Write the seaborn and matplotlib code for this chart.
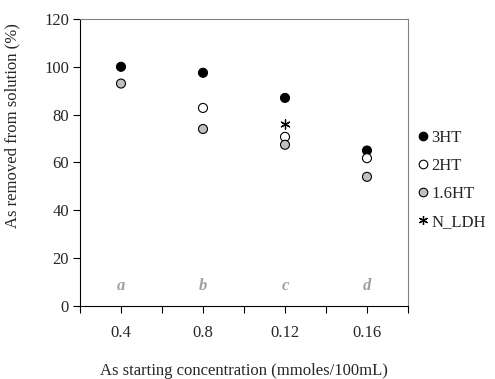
import numpy as np
import pandas as pd
import matplotlib
matplotlib.use("Agg")
import matplotlib.pyplot as plt
from matplotlib.lines import Line2D
import seaborn as sns

# data
concentrations = ["0.4", "0.8", "0.12", "0.16"]
letters = ["a", "b", "c", "d"]
ht3 = [100, 97.5, 87, 65]
ht2 = [None, 82.8, 70.7, 61.8]
ht16 = [93, 74, 67.4, 54]
nldh = [None, None, 76, None]

rows = []
for name, vals in [("3HT", ht3), ("2HT", ht2), ("1.6HT", ht16), ("N_LDH", nldh)]:
    for i, v in enumerate(vals):
        if v is not None:
            rows.append({"pos": i, "value": v, "series": name})
df = pd.DataFrame(rows)

sns.set_style("ticks")
plt.rcParams["font.family"] = ["Liberation Serif", "DejaVu Serif"]

fig = plt.figure(figsize=(4.95, 3.79), dpi=100)
ax = fig.add_axes([0.1616, 0.1926, 0.6626, 0.7574])

palette = {"3HT": "black", "2HT": "white", "1.6HT": "#c0c0c0"}
dots = df[df.series != "N_LDH"]
sns.scatterplot(data=dots, x="pos", y="value", hue="series", palette=palette,
                s=42, edgecolor="black", linewidth=0.8, ax=ax, zorder=3, legend=False)
star = (6, 2, 0)
sns.scatterplot(data=df[df.series == "N_LDH"], x="pos", y="value", color="black",
                marker=star, s=45, linewidth=0.9, ax=ax, zorder=3, legend=False)

for i, t in enumerate(letters):
    ax.text(i, 8.5, t, color="#a0a0a0", fontstyle="italic", fontweight="bold",
            fontsize=12, ha="center", va="center")

ax.set_xlim(-0.5, 3.5)
ax.set_ylim(0, 120)
ticks = np.arange(-0.5, 3.51, 0.5)
ax.set_xticks(ticks)
ax.set_xticklabels([concentrations[int(t)] if t == int(t) else "" for t in ticks])
ax.set_yticks(range(0, 121, 20))
ax.tick_params(axis="both", labelsize=12, length=5, width=0.8, color="black")
ax.tick_params(axis="x", pad=9)
ax.tick_params(axis="y", pad=3)

for side in ["top", "right"]:
    ax.spines[side].set_visible(True)
    ax.spines[side].set_color("#808080")
for side in ["left", "bottom"]:
    ax.spines[side].set_color("black")
for sp in ax.spines.values():
    sp.set_linewidth(0.8)

ax.set_xlabel("As starting concentration (mmoles/100mL)", fontsize=12)
ax.xaxis.set_label_coords(0.5, -0.2)
ax.set_ylabel("As removed from solution (%)", fontsize=12)
ax.yaxis.set_label_coords(-0.183, 0.63)

handles = [Line2D([], [], ls="", marker="o", markersize=6.2, markerfacecolor=palette[k],
                  markeredgecolor="black", markeredgewidth=0.8, label=k)
           for k in ["3HT", "2HT", "1.6HT"]]
handles.append(Line2D([], [], ls="", marker=star, markersize=6.5, color="black",
                      markeredgewidth=0.9, label="N_LDH"))
ax.legend(handles=handles, loc="center left", bbox_to_anchor=(1.0, 0.44), frameon=False,
          fontsize=12, labelspacing=0.72, handletextpad=0.0, handlelength=1.0,
          borderaxespad=0.0)

fig.savefig("out.png", dpi=100)
